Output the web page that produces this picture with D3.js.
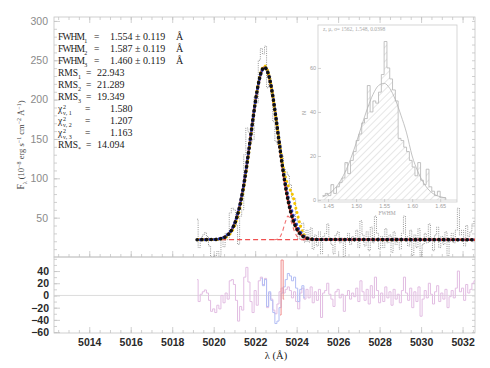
<!DOCTYPE html>
<html>
<head>
<meta charset="utf-8">
<script src="https://cdn.jsdelivr.net/npm/d3@7"></script>
<style>
  body { margin: 0; background: #fff; }
  svg { display: block; }
</style>
</head>
<body>
<svg id="chart" width="490" height="368"></svg>
<script>
// ---- values ----
const WL_START = 5019.2, WL_STEP = 0.1;   // spectral grid of the data
const flux = [48, 12, 24, 28, 31, 26, 14, 0, 0, 2,
              7, 1, 24, 13, 30, 22, 56, 62, 60, 41,
              16, 52, 60, 130, 164, 159, 147, 149, 204, 196,
              250, 265, 258, 268, 215, 230, 206, 172, 147, 143,
              143, 130, 112, 108, 104, 92, 75, 74, 48, 23,
              40, 43, 19, 34, 19, 37, 10, 28, 14, 32,
              4, 26, 30, 42, 24, 16, 4, 28, 32, 18,
              24, 0, 22, 30, 16, 26, 20, 34, 12, 46,
              28, 14, 32, 8, 38, 18, 52, 30, 10, 26,
              12, 36, 18, 28, 6, 32, 16, 24, 10, 30,
              52, 26, 14, 34, 2, 28, 12, 36, 0, 16,
              30, 18, 42, 24, 8, 28, 38, 12, 26, 16,
              32, 2, 20, 30, 18, 34, 62, 28, 34, 14,
              40, 26, 32, 42, 46];
const residPink = [26, -10, 2, 6, 9, 4, -8, -26, -22, -28,
                   -16, -22, 0, -12, 4, -6, 24, 26, 18, -8,
                   -42, -18, -24, 30, 46, 22, -10, -28, 8, -16,
                   24, 30, 18, 28, -20, 4, -6, -24, -30, -14,
                   6, 12, 4, 10, 14, 8, -4, 6, -10, -22,
                   4, 12, -6, 10, -4, 14, -12, 6, -8, 10,
                   -36, 4, 8, 20, 2, -6, -18, 6, 10, -4,
                   2, -26, 0, 8, -6, 4, -2, 12, -10, 24,
                   6, -8, 10, -14, 16, -4, 30, 8, -12, 4,
                   -10, 14, -4, 6, -16, 10, -6, 2, -12, 8,
                   30, 4, -8, 12, -20, 6, -10, 14, -34, -6,
                   8, -4, 20, 2, -14, 6, 16, -10, 4, -6,
                   10, -20, -2, 8, -4, 12, 40, 6, 12, -8,
                   18, 4, 10, 20, 24];
const BLUE_FROM = 31;   // first grid index of the blue residual
const residBlue = [28, 16, 26, -18, 6, -8, -28, -46, -42, -20, 4,
                   14, 26, 36, 32, 24, 30, 12, -10, 10, 16, -4];
const RED_FROM = 40;
const residRed = [-32, 58, -6];

const fitWl     = [5019.2, 5020.0, 5020.3, 5020.6, 5020.9, 5021.1, 5021.3, 5021.5, 5021.7, 5021.9, 5022.1, 5022.3, 5022.45,
                   5022.6, 5022.8, 5023.0, 5023.2, 5023.4, 5023.6, 5023.8, 5024.0, 5024.3, 5024.6, 5025.0, 5032.6];
const fitBlack  = [22, 22.2, 23.1, 26.3, 35.9, 49, 70, 99.7, 136.8, 176.8, 212.3, 235.4, 241,
                   235.4, 212.3, 176.8, 136.8, 99.7, 70, 49, 35.9, 26.3, 23.1, 22.2, 22];
const fitBlue   = [22, 22.2, 23.3, 26.8, 36.8, 50, 71, 100.5, 137.5, 177, 212, 235, 240.5,
                   235.5, 213.5, 179, 140, 103, 75, 56, 41, 28, 23.5, 22.3, 22];
const fitYellow = [22, 22.1, 22.8, 25.3, 33.5, 46, 66, 96, 134, 176, 213, 237, 243,
                   237, 213, 178, 140, 108, 90, 79, 58, 31, 23.5, 22.2, 22];
const contWl   = [5019.2, 5032.6];
const contFlux = [22, 22];
const compWl   = [5022.9, 5023.1, 5023.3, 5023.45, 5023.58, 5023.75, 5023.9, 5024.1, 5024.3];
const compFlux = [22, 23, 31, 44, 52, 44, 32, 24, 22];

// inset: FWHM distribution
const HIST_START = 1.440, HIST_W = 0.005;
const histCounts = [2, 3, 2, 7, 3, 6, 8, 10, 17, 12,
                    18, 22, 27, 30, 35, 37, 52, 40, 45, 44,
                    49, 57, 72, 60, 55, 50, 45, 28, 27, 24,
                    22, 18, 15, 11, 17, 9, 7, 14, 6, 4,
                    2, 4, 1, 1];
const gaussX = [1.44, 1.45, 1.46, 1.47, 1.48, 1.49, 1.50, 1.51, 1.52, 1.53, 1.54, 1.55,
                1.56, 1.57, 1.58, 1.59, 1.60, 1.61, 1.62, 1.63, 1.64, 1.65, 1.66];
const gaussY = [1.4, 2.6, 4.7, 7.9, 12.5, 18.5, 25.8, 33.8, 41.5, 47.9, 52, 53,
                50.7, 45.6, 38.5, 30.5, 20, 13, 8, 4.5, 2.5, 1.5, 1];

const xTicks = [5014, 5016, 5018, 5020, 5022, 5024, 5026, 5028, 5030, 5032];
const yTopTicks = [50, 100, 150, 200, 250, 300];
const yBotTicks = [40, 20, 0, -20, -40, -60];
const insetXTicks = [1.45, 1.50, 1.55, 1.60, 1.65];
const insetYTicks = [0, 20, 40, 60];

const fwhmVals = ['1.554', '1.587', '1.460'];
const fwhmErr = '0.119';
const rmsVals = ['22.943', '21.289', '19.349'];
const chiVals = ['1.580', '1.207', '1.163'];
const rmsStar = '14.094';

// ---- layout ----
const L = 54, R = 475, T = 17, MID = 257, B = 333;
const svg = d3.select('#chart');
const FRAME = '#c4c4c4';

const x = d3.scaleLinear().domain([5012.3, 5032.6]).range([L, R]);
const yTop = d3.scaleLinear().domain([0, 305]).range([MID, T]);
const yBot = d3.scaleLinear().domain([-61.5, 63]).range([B, MID]);

const defs = svg.append('defs');
defs.append('clipPath').attr('id', 'clipTop')
    .append('rect').attr('x', L).attr('y', T).attr('width', R - L).attr('height', MID - T);
defs.append('clipPath').attr('id', 'clipBot')
    .append('rect').attr('x', L).attr('y', MID).attr('width', R - L).attr('height', B - MID);
const hatch = defs.append('pattern').attr('id', 'hatch')
    .attr('patternUnits', 'userSpaceOnUse').attr('width', 5).attr('height', 5)
    .attr('patternTransform', 'rotate(45)');
hatch.append('line').attr('x1', 0).attr('y1', 0).attr('x2', 0).attr('y2', 5)
    .style('stroke', '#c2c2c2').style('stroke-width', 0.8);

function styleAxis(g, labelColor, size, weight) {
    g.select('.domain').remove();
    g.selectAll('.tick line').style('stroke', FRAME).style('stroke-width', 0.8);
    g.selectAll('.tick text').style('fill', labelColor)
        .style('font-family', 'Liberation Sans, Arial, sans-serif')
        .style('font-weight', weight || 'normal')
        .style('font-size', size + 'px');
}
const minorX = d3.range(5012.5, 5032.6, 0.5);

// upper panel axes
svg.append('g').attr('transform', `translate(${L},0)`)
    .call(d3.axisLeft(yTop).tickValues(yTopTicks).tickSize(-6).tickPadding(6))
    .call(g => styleAxis(g, '#8a8a8a', 10.5));
svg.append('g').attr('transform', `translate(${L},0)`)
    .call(d3.axisLeft(yTop).tickValues(d3.range(10, 301, 10)).tickSize(-3).tickFormat(''))
    .call(g => styleAxis(g, '#000', 10));
svg.append('g').attr('transform', `translate(${R},0)`)
    .call(d3.axisRight(yTop).tickValues(d3.range(10, 301, 10)).tickSize(-3).tickFormat(''))
    .call(g => styleAxis(g, '#000', 10));
[T, MID].forEach((yy, k) => {
    const mk = () => (k === 0 ? d3.axisTop(x) : d3.axisBottom(x));
    svg.append('g').attr('transform', `translate(0,${yy})`)
        .call(mk().tickValues(xTicks).tickSize(-6).tickFormat(''))
        .call(g => styleAxis(g, '#000', 10));
    svg.append('g').attr('transform', `translate(0,${yy})`)
        .call(mk().tickValues(minorX).tickSize(-3).tickFormat(''))
        .call(g => styleAxis(g, '#000', 10));
});

// lower panel axes
svg.append('g').attr('transform', `translate(${L},0)`)
    .call(d3.axisLeft(yBot).tickValues(yBotTicks).tickSize(-6).tickPadding(5))
    .call(g => styleAxis(g, '#2a2a2a', 10.5, 'bold'));
svg.append('g').attr('transform', `translate(${L},0)`)
    .call(d3.axisLeft(yBot).tickValues(d3.range(-60, 61, 10)).tickSize(-3).tickFormat(''))
    .call(g => styleAxis(g, '#000', 10));
svg.append('g').attr('transform', `translate(${R},0)`)
    .call(d3.axisRight(yBot).tickValues(d3.range(-60, 61, 10)).tickSize(-3).tickFormat(''))
    .call(g => styleAxis(g, '#000', 10));
svg.append('g').attr('transform', `translate(0,${B})`)
    .call(d3.axisBottom(x).tickValues(xTicks).tickSize(-6).tickPadding(6).tickFormat(d3.format('d')))
    .call(g => styleAxis(g, '#2a2a2a', 10.5, 'bold'));
svg.append('g').attr('transform', `translate(0,${B})`)
    .call(d3.axisBottom(x).tickValues(minorX).tickSize(-3).tickFormat(''))
    .call(g => styleAxis(g, '#000', 10));

// frames
svg.append('rect').attr('x', L).attr('y', T).attr('width', R - L).attr('height', MID - T)
    .style('fill', 'none').style('stroke', FRAME).style('stroke-width', 0.8);
svg.append('rect').attr('x', L).attr('y', MID).attr('width', R - L).attr('height', B - MID)
    .style('fill', 'none').style('stroke', FRAME).style('stroke-width', 0.8);
svg.append('line').attr('x1', L).attr('x2', R).attr('y1', yBot(0)).attr('y2', yBot(0))
    .style('stroke', '#d4d4d4').style('stroke-width', 0.8);

// ---- inset histogram ----
const IL = 318, IR = 457, IT = 25, IB = 202;
const ix = d3.scaleLinear().domain([1.432, 1.68]).range([IL, IR]);
const iy = d3.scaleLinear().domain([-0.9, 79.5]).range([IB, IT]);
const inset = svg.append('g');
const bins = histCounts.map((n, i) => ({ x: HIST_START + i * HIST_W, n }));
bins.push({ x: HIST_START + histCounts.length * HIST_W, n: 0 });
inset.append('path').datum(bins)
    .attr('d', d3.area().x(d => ix(d.x)).y0(iy(0)).y1(d => iy(d.n)).curve(d3.curveStepAfter))
    .style('fill', 'url(#hatch)');
inset.append('path').datum(bins)
    .attr('d', d3.line().x(d => ix(d.x)).y(d => iy(d.n)).curve(d3.curveStepAfter))
    .style('fill', 'none').style('stroke', '#b4b4b4').style('stroke-width', 0.8);
inset.append('path').datum(gaussX.map((v, i) => [v, gaussY[i]]))
    .attr('d', d3.line().x(d => ix(d[0])).y(d => iy(d[1])).curve(d3.curveMonotoneX))
    .style('fill', 'none').style('stroke', '#b4b4b4').style('stroke-width', 0.8);
inset.append('line').attr('x1', IL).attr('x2', IR).attr('y1', iy(0)).attr('y2', iy(0))
    .style('stroke', '#c8c8c8').style('stroke-width', 0.7);
inset.append('rect').attr('x', IL).attr('y', IT).attr('width', IR - IL).attr('height', IB - IT)
    .style('fill', 'none').style('stroke', '#cccccc').style('stroke-width', 0.8);
inset.append('g').attr('transform', `translate(${IL},0)`)
    .call(d3.axisLeft(iy).tickValues(insetYTicks).tickSize(-3).tickPadding(2))
    .call(g => styleAxis(g, '#a0a0a0', 5.5));
inset.append('g').attr('transform', `translate(0,${IB})`)
    .call(d3.axisBottom(ix).tickValues(insetXTicks).tickSize(-3).tickPadding(2).tickFormat(d3.format('.2f')))
    .call(g => styleAxis(g, '#a0a0a0', 5.5));
inset.append('text').attr('x', 387).attr('y', 215).attr('text-anchor', 'middle')
    .style('font-family', 'Liberation Serif, serif').style('font-size', '5.5px').style('fill', '#a0a0a0')
    .text('FWHM');
inset.append('text').attr('transform', 'translate(306,113) rotate(-90)').attr('text-anchor', 'middle')
    .style('font-family', 'Liberation Serif, serif').style('font-size', '5.5px').style('fill', '#a0a0a0')
    .text('N');
inset.append('text').attr('x', 323).attr('y', 31)
    .style('font-family', 'Liberation Serif, serif').style('font-size', '5.5px').style('fill', '#a8a8a8')
    .text('z, μ, σ=  1562,   1.548,   0.0398');

// ---- spectrum ----
const wl = flux.map((_, i) => WL_START + i * WL_STEP);
const upper = svg.append('g').attr('clip-path', 'url(#clipTop)');
const stepLine = yS => d3.line().x(d => x(d[0])).y(d => yS(d[1])).curve(d3.curveStep);
const smooth = d3.line().x(d => x(d[0])).y(d => yTop(d[1])).curve(d3.curveMonotoneX);
const pairs = (xs, ys) => ys.map((v, i) => [xs[i], v]);

upper.append('path').datum(pairs(wl, flux)).attr('d', stepLine(yTop))
    .style('fill', 'none').style('stroke', '#8a8a8a').style('stroke-width', 0.9)
    .style('stroke-dasharray', '1,1.2');
upper.append('path').datum(pairs(contWl, contFlux)).attr('d', smooth)
    .style('fill', 'none').style('stroke', '#f05050').style('stroke-width', 1.3)
    .style('stroke-dasharray', '5,3');
upper.append('path').datum(pairs(compWl, compFlux)).attr('d', smooth)
    .style('fill', 'none').style('stroke', '#f07070').style('stroke-width', 1.1)
    .style('stroke-dasharray', '4,3');
upper.append('path').datum(pairs(fitWl, fitBlack)).attr('d', smooth)
    .style('fill', 'none').style('stroke', '#e8402a').style('stroke-width', 2.4);
upper.append('path').datum(pairs(fitWl, fitYellow)).attr('d', smooth)
    .style('fill', 'none').style('stroke', '#f5c400').style('stroke-width', 3)
    .style('stroke-linecap', 'round').style('stroke-dasharray', '0.1,4.6').style('stroke-dashoffset', -1.6);
upper.append('path').datum(pairs(fitWl, fitBlue)).attr('d', smooth)
    .style('fill', 'none').style('stroke', '#2a3fd0').style('stroke-width', 3)
    .style('stroke-linecap', 'round').style('stroke-dasharray', '0.1,4.6').style('stroke-dashoffset', -3.1);
upper.append('path').datum(pairs(fitWl, fitBlack)).attr('d', smooth)
    .style('fill', 'none').style('stroke', '#111').style('stroke-width', 3.6)
    .style('stroke-linecap', 'round').style('stroke-dasharray', '0.1,4.6');

// ---- residuals ----
const lower = svg.append('g').attr('clip-path', 'url(#clipBot)');
lower.append('path').datum(pairs(wl, residPink)).attr('d', stepLine(yBot))
    .style('fill', 'none').style('stroke', '#e2bde2').style('stroke-width', 1);
lower.append('path').datum(pairs(wl.slice(BLUE_FROM), residBlue)).attr('d', stepLine(yBot))
    .style('fill', 'none').style('stroke', '#b2bdf4').style('stroke-width', 1);
lower.append('path').datum(pairs(wl.slice(RED_FROM), residRed)).attr('d', stepLine(yBot))
    .style('fill', 'none').style('stroke', '#f08c8c').style('stroke-width', 1);

// ---- annotations ----
const serif = 'Liberation Serif, Times New Roman, serif';
const note = svg.append('g').style('font-family', serif).style('font-size', '9.5px').style('fill', '#1a1a1a');
const rowY = i => 40 + i * 12;
fwhmVals.forEach((v, i) => {
    const t = note.append('text').attr('y', rowY(i));
    t.append('tspan').attr('x', 58).attr('textLength', 27).text('FWHM');
    t.append('tspan').attr('dy', 2.5).style('font-size', '6px').text(String(i + 1));
    t.append('tspan').attr('x', 94).attr('dy', -2.5).text('=');
    t.append('tspan').attr('x', 110).style('font-size', '10px').text(v);
    t.append('tspan').attr('x', 135).style('font-size', '10px').text('±');
    t.append('tspan').attr('x', 143).style('font-size', '10px').text(fwhmErr);
    t.append('tspan').attr('x', 176).style('font-size', '10px').text('Å');
});
rmsVals.forEach((v, i) => {
    const t = note.append('text').attr('y', rowY(3 + i));
    t.append('tspan').attr('x', 58).text('RMS');
    t.append('tspan').attr('dy', 2.5).style('font-size', '6px').text(String(i + 1));
    t.append('tspan').attr('x', 86).attr('dy', -2.5).text('=');
    t.append('tspan').attr('x', 97).style('font-size', '10px').text(v);
});
chiVals.forEach((v, i) => {
    const t = note.append('text').attr('y', rowY(6 + i));
    t.append('tspan').attr('x', 58).text('χ');
    t.append('tspan').attr('x', 63).attr('dy', -3.5).style('font-size', '6px').text('2');
    t.append('tspan').attr('x', 63).attr('dy', 6).style('font-size', '6px').text('ν, ' + (i + 1));
    t.append('tspan').attr('x', 85).attr('dy', -2.5).text('=');
    t.append('tspan').attr('x', 110).style('font-size', '10px').text(v);
});
{
    const t = note.append('text').attr('y', rowY(9));
    t.append('tspan').attr('x', 58).text('RMS');
    t.append('tspan').attr('dy', 2.5).style('font-size', '6px').text('*');
    t.append('tspan').attr('x', 86).attr('dy', -2.5).text('=');
    t.append('tspan').attr('x', 97).style('font-size', '10px').text(rmsStar);
}

// axis titles
const ylab = svg.append('text').attr('transform', 'translate(24,145) rotate(-90)')
    .attr('text-anchor', 'middle')
    .style('font-family', serif).style('font-size', '8.5px').style('fill', '#444');
ylab.append('tspan').style('font-size', '9.5px').text('F');
ylab.append('tspan').attr('dy', 2.5).style('font-size', '6px').text('λ');
ylab.append('tspan').attr('dy', -2.5).text(' (10');
ylab.append('tspan').attr('dy', -3.5).style('font-size', '6px').text('−8');
ylab.append('tspan').attr('dy', 3.5).text(' erg s');
ylab.append('tspan').attr('dy', -3.5).style('font-size', '6px').text('−1');
ylab.append('tspan').attr('dy', 3.5).text(' cm');
ylab.append('tspan').attr('dy', -3.5).style('font-size', '6px').text('−2');
ylab.append('tspan').attr('dy', 3.5).text(' Å');
ylab.append('tspan').attr('dy', -3.5).style('font-size', '6px').text('−1');
ylab.append('tspan').attr('dy', 3.5).text(')');

svg.append('text').attr('x', 276).attr('y', 359).attr('text-anchor', 'middle')
    .style('font-family', serif).style('font-size', '10.5px').style('fill', '#222')
    .text('λ (Å)');
</script>
</body>
</html>
